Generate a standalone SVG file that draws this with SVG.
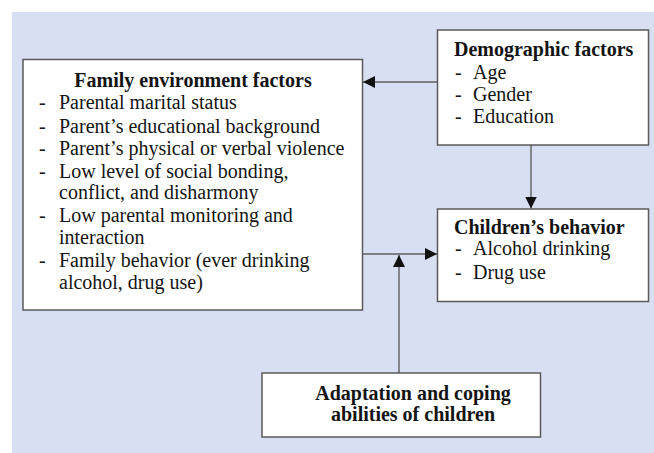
<svg xmlns="http://www.w3.org/2000/svg" width="654" height="453" viewBox="0 0 654 453">
<style>
  .box { fill: #ffffff; stroke: #5a5a5a; stroke-width: 1.5; }
  .t { font-family: "Liberation Serif", "Times New Roman", serif; font-size: 20px; fill: #141414; }
  .b { font-weight: bold; }
  .conn { stroke: #5f5f5f; stroke-width: 1.4; fill: none; }
</style>
<defs>
  <marker id="ah" viewBox="0 0 12 12" refX="12" refY="6" markerWidth="12" markerHeight="12" markerUnits="userSpaceOnUse" orient="auto">
    <path d="M0,0 L12,6 L0,12 Z" fill="#111111"/>
  </marker>
</defs>
<rect x="0" y="0" width="654" height="453" fill="#ffffff"/>
<rect x="12" y="12" width="642" height="441" fill="#d9dff2"/>

<g id="connectors">
  <line class="conn" x1="437" y1="82" x2="363" y2="82" marker-end="url(#ah)"/>
  <line class="conn" x1="531" y1="145" x2="531" y2="208.5" marker-end="url(#ah)"/>
  <line class="conn" x1="363" y1="254" x2="437" y2="254" marker-end="url(#ah)"/>
  <line class="conn" x1="399" y1="373" x2="399" y2="255" marker-end="url(#ah)"/>
</g>

<g id="family">
  <rect class="box" x="23" y="59.5" width="339.5" height="250.5"/>
  <text class="t b" x="193" y="86.5" text-anchor="middle">Family environment factors</text>
  <g class="t">
    <text x="39" y="109">-</text><text x="59" y="109">Parental marital status</text>
    <text x="39" y="132.5">-</text><text x="59" y="132.5">Parent’s educational background</text>
    <text x="39" y="155">-</text><text x="59" y="155">Parent’s physical or verbal violence</text>
    <text x="39" y="177.5">-</text><text x="59" y="177.5">Low level of social bonding,</text>
    <text x="59" y="199">conflict, and disharmony</text>
    <text x="39" y="222">-</text><text x="59" y="222">Low parental monitoring and</text>
    <text x="59" y="243.5">interaction</text>
    <text x="39" y="266.5">-</text><text x="59" y="266.5">Family behavior (ever drinking</text>
    <text x="59" y="288.5">alcohol, drug use)</text>
  </g>
</g>

<g id="demographic">
  <rect class="box" x="437.5" y="30" width="211" height="115"/>
  <text class="t b" x="454" y="56">Demographic factors</text>
  <g class="t">
    <text x="455" y="78.5">-</text><text x="473" y="78.5">Age</text>
    <text x="455" y="100.5">-</text><text x="473" y="100.5">Gender</text>
    <text x="455" y="122.5">-</text><text x="473" y="122.5">Education</text>
  </g>
</g>

<g id="children">
  <rect class="box" x="437.5" y="209" width="211" height="92.5"/>
  <text class="t b" x="454" y="233.5">Children’s behavior</text>
  <g class="t">
    <text x="455" y="255">-</text><text x="473" y="255">Alcohol drinking</text>
    <text x="455" y="278.5">-</text><text x="473" y="278.5">Drug use</text>
  </g>
</g>

<g id="adaptation">
  <rect class="box" x="262" y="373" width="278.5" height="64"/>
  <text class="t b" x="413" y="400" text-anchor="middle">Adaptation and coping</text>
  <text class="t b" x="413" y="421" text-anchor="middle">abilities of children</text>
</g>
</svg>
